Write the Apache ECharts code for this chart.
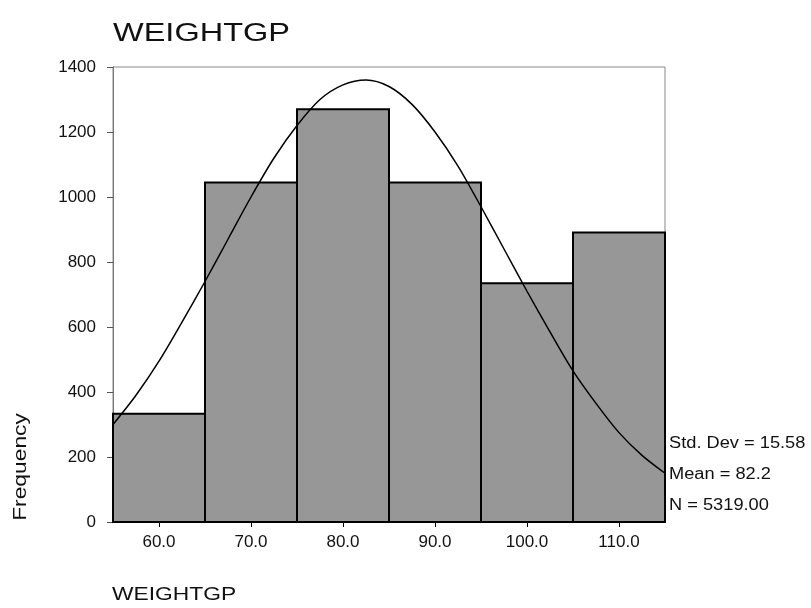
<!DOCTYPE html>
<html>
<head>
<meta charset="utf-8">
<script src="https://cdn.jsdelivr.net/npm/echarts@6/dist/echarts.min.js"></script>
<style>
html,body{margin:0;padding:0;background:#fff;}
#chart{width:811px;height:608px;}
</style>
</head>
<body>
<div id="chart"></div>
<script>
const binStarts = [55, 65, 75, 85, 95, 105];
const binEnds = [65, 75, 85, 95, 105, 115];
const counts = [333, 1045, 1270, 1045, 735, 891];
const xTicks = [60, 70, 80, 90, 100, 110];
const curveX = [55, 57.5, 60, 62.5, 65, 67.5, 70, 72.5, 75, 77.5, 80, 82.5, 85, 87.5, 90, 92.5, 95, 97.5, 100, 102.5, 105, 107.5, 110, 112.5, 115];
const curveY = [300, 390, 495, 615, 740, 870, 1000, 1120, 1220, 1300, 1345, 1360, 1340, 1285, 1200, 1095, 970, 840, 710, 585, 465, 365, 275, 205, 150];
const statLines = ['Std. Dev = 15.58', 'Mean = 82.2', 'N = 5319.00'];
const titleText = 'WEIGHTGP';
const xName = 'WEIGHTGP';
const yName = 'Frequency';

const FONT = '"Liberation Sans", Arial, sans-serif';
const chart = echarts.init(document.getElementById('chart'), null, {renderer: 'canvas'});

const barData = binStarts.map((s, i) => [s, binEnds[i], counts[i]]);
const curveData = curveX.map((x, i) => [x, curveY[i]]);

const statY = [444, 475, 506];
const graphics = [
  {type: 'text', x: 113, y: 34, scaleX: 1.3, style: {text: titleText, font: '25px ' + FONT, fill: '#111', textVerticalAlign: 'middle'}},
  {type: 'text', x: 112, y: 595, scaleX: 1.2, style: {text: xName, font: '19px ' + FONT, fill: '#111', textVerticalAlign: 'middle'}},
  {type: 'text', x: 21, y: 467, rotation: Math.PI / 2, scaleX: 1.2, style: {text: yName, font: '19px ' + FONT, fill: '#111', textAlign: 'center', textVerticalAlign: 'middle'}}
].concat(statLines.map((t, i) => ({
  type: 'text', x: 669, y: statY[i], scaleX: 1.14,
  style: {text: t, font: '16px ' + FONT, fill: '#111', textVerticalAlign: 'middle'}
})));

chart.setOption({
  animation: false,
  backgroundColor: '#fff',
  grid: {left: 113, right: 146, top: 67, bottom: 86, show: true, borderColor: '#888', borderWidth: 1, backgroundColor: 'transparent'},
  xAxis: {
    type: 'value', min: 55, max: 115,
    axisLine: {show: true, onZero: false, lineStyle: {color: '#000', width: 2}},
    axisTick: {show: true, inside: false, length: 5, customValues: xTicks, lineStyle: {color: '#000'}},
    axisLabel: {customValues: xTicks, formatter: v => v.toFixed(1), color: '#111', fontFamily: FONT, fontSize: 17, margin: 12},
    splitLine: {show: false}
  },
  yAxis: {
    type: 'value', min: 0, max: 1400, interval: 200,
    axisLine: {show: true, lineStyle: {color: '#777', width: 1}},
    axisTick: {show: true, inside: false, length: 6, lineStyle: {color: '#555'}},
    axisLabel: {formatter: v => String(v), color: '#111', fontFamily: FONT, fontSize: 17, margin: 17},
    splitLine: {show: false}
  },
  graphic: graphics,
  series: [
    {
      type: 'custom',
      data: barData,
      encode: {x: [0, 1], y: 2},
      renderItem: function (params, api) {
        const p0 = api.coord([api.value(0), api.value(2)]);
        const p1 = api.coord([api.value(1), 0]);
        return {
          type: 'rect',
          shape: {x: p0[0], y: p0[1], width: p1[0] - p0[0], height: p1[1] - p0[1]},
          style: {fill: '#979797', stroke: '#000', lineWidth: 2}
        };
      },
      z: 2
    },
    {
      type: 'line',
      data: curveData,
      smooth: 0.3,
      showSymbol: false,
      symbol: 'none',
      lineStyle: {color: '#000', width: 1.5},
      z: 3
    }
  ]
});
</script>
</body>
</html>
